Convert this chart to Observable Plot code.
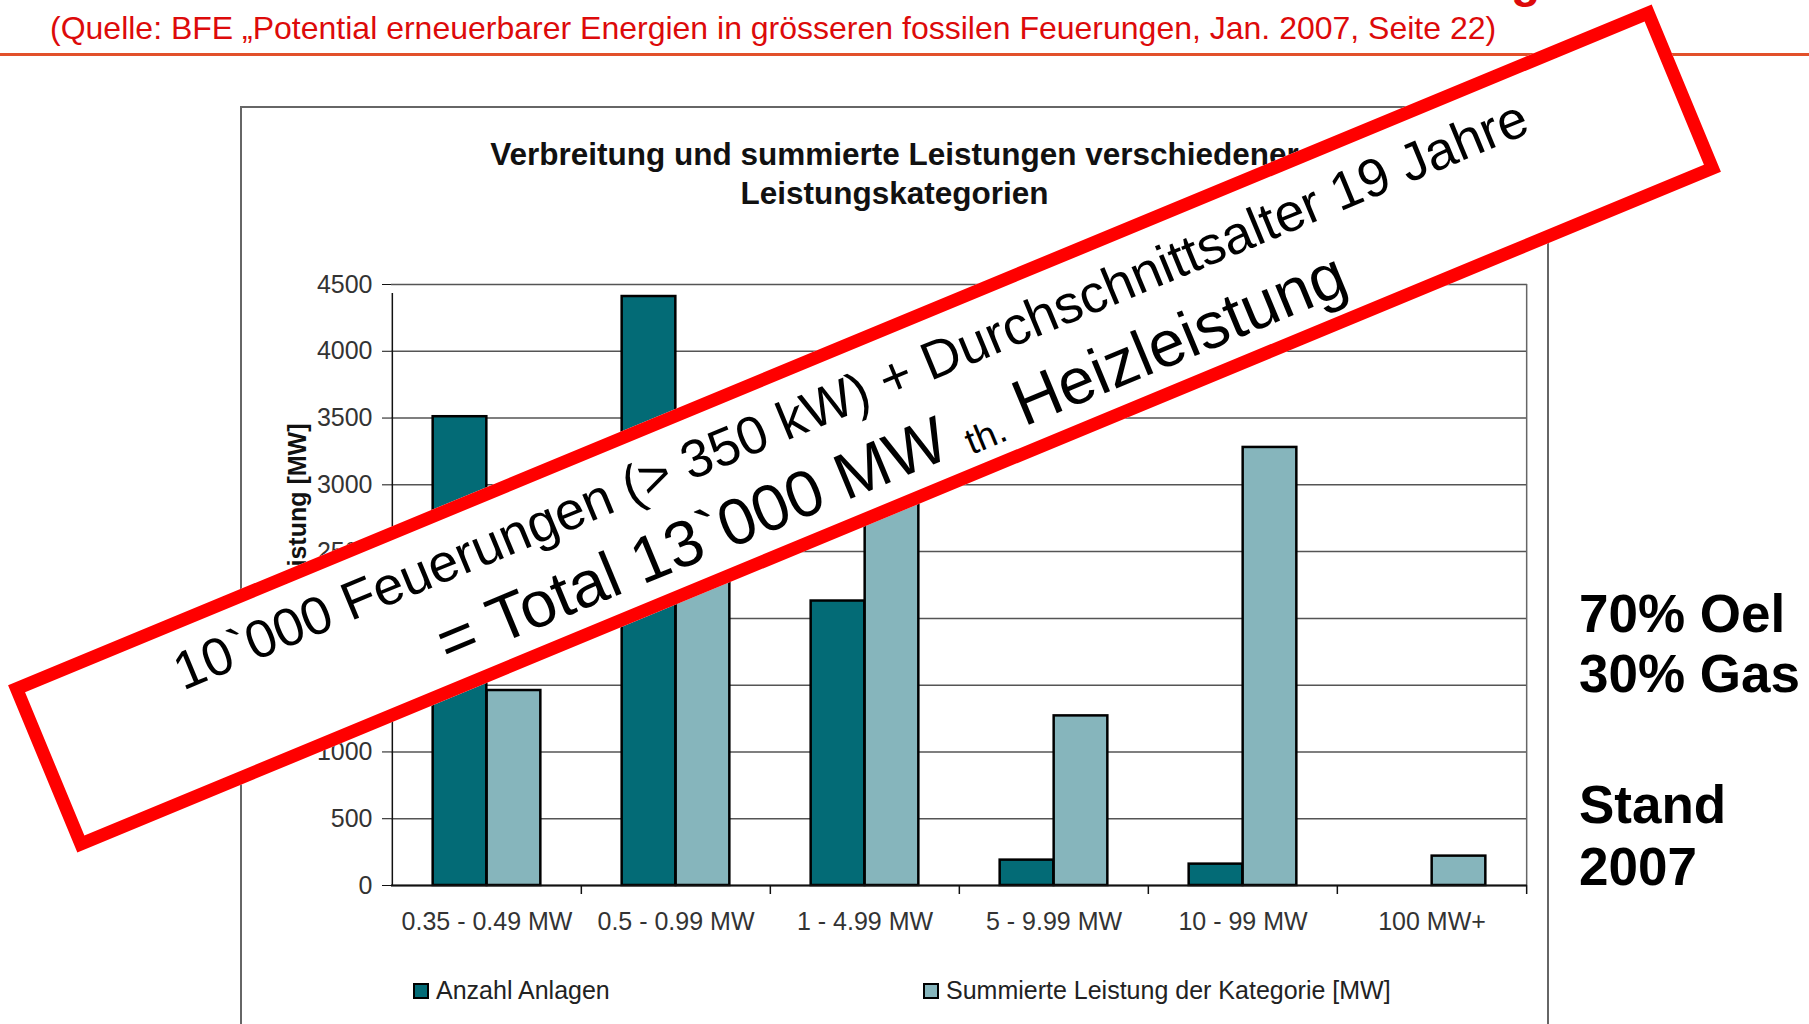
<!DOCTYPE html>
<html lang="de">
<head>
<meta charset="utf-8">
<script src="https://cdn.jsdelivr.net/npm/d3@7"></script>
<script src="https://cdn.jsdelivr.net/npm/@observablehq/plot@0.6"></script>
<style>
  html, body { margin:0; padding:0; background:#fff; }
  body { width:1809px; height:1024px; position:relative; overflow:hidden; font-family:"Liberation Sans", Arial, sans-serif; }
  .t { position:absolute; white-space:nowrap; line-height:1; }
  #source { left:50px; top:12px; font-size:32px; color:#dd0a0a; }
  #rule { position:absolute; left:0; top:53px; width:1809px; height:3px; background:#e2502a; }
  #titlefrag { left:1511px; top:-43px; font-size:48px; font-weight:bold; color:#dd0a0a; }
  #frame { position:absolute; left:240px; top:106px; width:1309px; height:960px; box-sizing:border-box; border:2px solid #666; }
  .ctitle { left:240px; width:1309px; text-align:center; font-size:31.5px; font-weight:bold; color:#111; }
  #chart { position:absolute; left:242px; top:230px; }
  .sw { position:absolute; width:16px; height:16px; box-sizing:border-box; border:2px solid #000; }
  .leg { font-size:25px; color:#222; }
  .side { left:1579px; font-size:53px; font-weight:bold; color:#000; }
  #banner { position:absolute; left:-25px; top:337.5px; width:1779px; height:181px; box-sizing:border-box; border:13px solid #ff0000; background:#fff; transform:rotate(-22.5deg); }
  #banner .l1 { position:absolute; left:0; width:100%; top:14px; text-align:center; font-size:53.5px; line-height:1; white-space:nowrap; color:#000; }
  #banner .l2 { position:absolute; left:401px; top:82px; font-size:65px; line-height:1; white-space:nowrap; color:#000; }
  #banner .sub { font-size:37px; position:relative; top:6px; }
</style>
</head>
<body>
<div id="source" class="t">(Quelle: BFE „Potential erneuerbarer Energien in grösseren fossilen Feuerungen, Jan. 2007, Seite 22)</div>
<div id="titlefrag" class="t">g</div>
<div id="rule"></div>
<div id="frame"></div>
<div class="t ctitle" style="top:138.5px">Verbreitung und summierte Leistungen verschiedener</div>
<div class="t ctitle" style="top:177.5px">Leistungskategorien</div>
<div id="chart"></div>
<div id="legend"></div>
<div class="t side" style="top:587px">70% Oel</div>
<div class="t side" style="top:647px">30% Gas</div>
<div class="t side" style="top:778px">Stand</div>
<div class="t side" style="top:840px">2007</div>
<div id="banner">
  <div class="l1">10`000 Feuerungen (&gt; 350 kW) + Durchschnittsalter 19 Jahre</div>
  <div class="l2">= Total 13`000 MW <span class="sub">th.</span> Heizleistung</div>
</div>
<script>
const categories = ["0.35 - 0.49 MW", "0.5 - 0.99 MW", "1 - 4.99 MW", "5 - 9.99 MW", "10 - 99 MW", "100 MW+"];
const anzahlAnlagen = [3510, 4410, 2130, 190, 160, 0];
const summierteLeistung = [1460, 3100, 3670, 1270, 3280, 220];
const seriesNames = ["Anzahl Anlagen", "Summierte Leistung der Kategorie [MW]"];
const yTicks = [0, 500, 1000, 1500, 2000, 2500, 3000, 3500, 4000, 4500];
const yLabel = "Anzahl / Leistung [MW]";

const seriesColors = ["#036b76", "#86b5bc"];
const rows = categories.flatMap((c, i) => [
  {category: c, series: seriesNames[0], value: anzahlAnlagen[i]},
  {category: c, series: seriesNames[1], value: summierteLeistung[i]}
]);

const W = 1305, H = 730, mL = 149, mR = 20, mT = 54, mB = 75;
const bw = (W - mL - mR) / categories.length;
const barW = 54;
const gap = (bw - 2 * barW) / 2;
const axisColor = "#111";

const chart = Plot.plot({
  width: W, height: H,
  marginLeft: mL, marginRight: mR, marginTop: mT, marginBottom: mB,
  style: {fontFamily: '"Liberation Sans", Arial, sans-serif', fontSize: "25px", color: "#333", background: "transparent", overflow: "visible"},
  x: {domain: categories, paddingInner: 0, paddingOuter: 0, label: null},
  y: {domain: [0, 4500], label: null},
  marks: [
    Plot.ruleY(yTicks, {stroke: "#555", strokeWidth: 1.5}),
    Plot.ruleX([categories[categories.length - 1]], {dx: bw / 2, y1: 0, y2: 4500, stroke: "#666", strokeWidth: 1.5}),
    Plot.barY(rows.filter(d => d.series === seriesNames[0] && d.value > 0), {
      x: "category", y: "value", fill: seriesColors[0], stroke: "#000", strokeWidth: 2.5,
      insetLeft: gap, insetRight: gap + barW
    }),
    Plot.barY(rows.filter(d => d.series === seriesNames[1] && d.value > 0), {
      x: "category", y: "value", fill: seriesColors[1], stroke: "#000", strokeWidth: 2.5,
      insetLeft: gap + barW, insetRight: gap
    }),
    Plot.ruleX([categories[0]], {dx: -bw / 2, y1: 0, y2: 4500, insetBottom: -9, stroke: axisColor, strokeWidth: 1.5}),
    Plot.ruleX(categories.slice(1), {dx: -bw / 2, y1: 0, y2: 0, insetBottom: -9, stroke: axisColor, strokeWidth: 1.5}),
    Plot.ruleX([categories[categories.length - 1]], {dx: bw / 2, y1: 0, y2: 0, insetBottom: -9, stroke: axisColor, strokeWidth: 1.5}),
    Plot.ruleY([0], {stroke: axisColor, strokeWidth: 2}),
    Plot.axisY(yTicks, {tickSize: 9, tickPadding: 10, fontSize: 25, stroke: axisColor, fill: "#333", label: null, tickFormat: d => String(d)}),
    Plot.axisX({tickSize: 0, tickPadding: 27, fontSize: 25, fill: "#333", label: null}),
    Plot.text([yLabel], {frameAnchor: "top-left", rotate: -90, dx: -103, dy: 139, textAnchor: "end", fontSize: 25, fontWeight: "bold", fill: "#111"})
  ]
});
document.getElementById("chart").appendChild(chart);

// legend
const legend = document.getElementById("legend");
const legendX = [413, 923];
seriesNames.forEach((name, i) => {
  const sw = document.createElement("div");
  sw.className = "sw";
  sw.style.left = legendX[i] + "px";
  sw.style.top = "983px";
  sw.style.background = seriesColors[i];
  legend.appendChild(sw);
  const tx = document.createElement("div");
  tx.className = "t leg";
  tx.style.left = (legendX[i] + 23) + "px";
  tx.style.top = "978px";
  tx.textContent = name;
  legend.appendChild(tx);
});
</script>
</body>
</html>
